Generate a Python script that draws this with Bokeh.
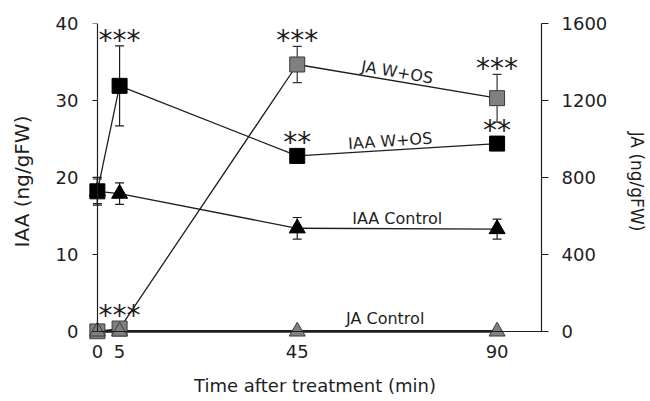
from bokeh.plotting import figure
from bokeh.models import Range1d, LinearAxis, FixedTicker, Whisker, ColumnDataSource, TeeHead
from bokeh.core.properties import value
from bokeh.embed import file_html
from bokeh.resources import INLINE

# ---------------- data ----------------
time_min = [0, 5, 45, 90]
x_tick_labels = ["0", "5", "45", "90"]
iaa_wos = [18.2, 31.9, 22.8, 24.4]
iaa_wos_err = [1.8, 5.2, 0.6, 0.6]
iaa_ctrl = [18.2, 17.9, 13.4, 13.3]
iaa_ctrl_err = [1.6, 1.4, 1.4, 1.3]
ja_wos = [0, 15, 1387, 1212]
ja_wos_err = [5, 8, 94, 124]
ja_ctrl = [0, 0, 0, 0]
ja_ctrl_err = [2, 2, 2, 2]
iaa_ticks = [0, 10, 20, 30, 40]
ja_ticks = [0, 400, 800, 1200, 1600]
sig_iaa_wos = ["", "***", "**", "**"]
sig_ja_wos = ["", "***", "***", "***"]
series_names = ["IAA W+OS", "IAA Control", "JA W+OS", "JA Control"]

IAA_MAX = 40
JA_MAX = 1600
X_MAX = 100
SCALE = JA_MAX / IAA_MAX
FONT = "DejaVu Sans"
INK = "#1e1e1e"
GREY = "#808080"
Y0 = -1.05

p = figure(width=650, height=401, x_range=Range1d(-2, X_MAX), y_range=Range1d(Y0, IAA_MAX),
           x_axis_type=None, y_axis_type=None, output_backend="svg", toolbar_location=None,
           min_border_left=88, min_border_right=105, min_border_top=23, min_border_bottom=62)
p.extra_y_ranges = {"ja": Range1d(Y0 * SCALE, JA_MAX)}
p.outline_line_color = None
p.background_fill_color = "white"
p.border_fill_color = "white"

# ---------------- axes ----------------
def style_axis(ax, size="18px"):
    ax.axis_line_color = INK
    ax.axis_line_width = 1.2
    ax.major_tick_line_color = INK
    ax.major_tick_line_width = 1.2
    ax.minor_tick_line_color = None
    ax.major_label_text_font = FONT
    ax.major_label_text_font_size = size
    ax.major_label_text_color = INK
    ax.axis_label_text_font = FONT
    ax.axis_label_text_font_style = "normal"
    ax.axis_label_text_color = INK

# left: labels + title at the frame edge, line + ticks at x = 0
ylab = LinearAxis(ticker=FixedTicker(ticks=iaa_ticks), major_tick_out=0, major_tick_in=0,
                  major_label_standoff=10, axis_label="IAA (ng/gFW)", axis_label_standoff=19)
style_axis(ylab)
ylab.axis_line_color = None
ylab.major_tick_line_color = None
ylab.axis_label_text_font_size = "20px"
p.add_layout(ylab, "left")

yline = LinearAxis(fixed_location=0, bounds=(0, IAA_MAX), ticker=FixedTicker(ticks=iaa_ticks),
                   major_tick_out=5, major_tick_in=0)
style_axis(yline)
yline.major_label_text_color = None
p.add_layout(yline, "left")

# bottom: labels + title at the frame edge, line at y = 0
xlab = LinearAxis(ticker=FixedTicker(ticks=time_min), major_tick_out=0, major_tick_in=0,
                  major_label_standoff=5, axis_label="Time after treatment (min)",
                  axis_label_standoff=14,
                  major_label_overrides={t: s for t, s in zip(time_min, x_tick_labels)})
style_axis(xlab)
xlab.axis_line_color = None
xlab.major_tick_line_color = None
xlab.axis_label_text_font_size = "18px"
p.add_layout(xlab, "below")

xline = LinearAxis(fixed_location=0, bounds=(0, X_MAX), ticker=FixedTicker(ticks=time_min),
                   major_tick_out=0, major_tick_in=0)
style_axis(xline)
xline.major_tick_line_color = None
xline.major_label_text_color = None
p.add_layout(xline, "below")

rax = LinearAxis(y_range_name="ja", bounds=(0, JA_MAX), ticker=FixedTicker(ticks=ja_ticks),
                 major_tick_out=7, major_tick_in=0, major_label_standoff=13,
                 axis_label="JA (ng/gFW)", axis_label_standoff=17)
style_axis(rax)
rax.axis_label_text_font_size = "17px"
p.add_layout(rax, "right")

# ---------------- error bars ----------------
def whisk(vals, errs, color, rng="default"):
    src = ColumnDataSource(dict(x=time_min, up=[v + e for v, e in zip(vals, errs)],
                                lo=[v - e for v, e in zip(vals, errs)]))
    w = Whisker(base="x", upper="up", lower="lo", source=src, line_color=color, line_width=1.2,
                upper_head=TeeHead(size=9, line_color=color, line_width=1.2),
                lower_head=TeeHead(size=9, line_color=color, line_width=1.2),
                level="underlay", y_range_name=rng)
    p.add_layout(w)

whisk(iaa_ctrl, iaa_ctrl_err, INK)
whisk(iaa_wos, iaa_wos_err, INK)
whisk(ja_wos, ja_wos_err, "#333333", "ja")
whisk(ja_ctrl, ja_ctrl_err, "#333333", "ja")

# ---------------- lines ----------------
p.line(time_min, ja_ctrl, y_range_name="ja", line_color=INK, line_width=2.6)
p.line(time_min, iaa_ctrl, line_color=INK, line_width=1.3)
p.line(time_min, iaa_wos, line_color=INK, line_width=1.3)
p.line(time_min, ja_wos, y_range_name="ja", line_color=INK, line_width=1.3)

# ---------------- markers ----------------
p.scatter(time_min, iaa_ctrl, marker="triangle", size=16, fill_color="black", line_color="black")
p.scatter(time_min, iaa_wos, marker="square", size=15, fill_color="black", line_color="black")
p.scatter(time_min, ja_wos, y_range_name="ja", marker="square", size=15, fill_color=GREY,
          line_color="#3a3a3a", line_width=1)
p.scatter(time_min, ja_ctrl, y_range_name="ja", marker="triangle", size=16, fill_color=GREY,
          line_color="#3a3a3a", line_width=1)

# ---------------- significance stars ----------------
star_x, star_y, star_t = [], [], []
for vals, errs, sig, conv in [(iaa_wos, iaa_wos_err, sig_iaa_wos, 1.0),
                              (ja_wos, ja_wos_err, sig_ja_wos, 1.0 / SCALE)]:
    for t, v, e, s in zip(time_min, vals, errs, sig):
        if s:
            anchor = max((v + e) * conv, v * conv + 1.0)
            star_x.append(t)
            star_y.append(anchor + 0.75)
            star_t.append(s)
p.text(x=star_x, y=star_y, text=star_t, text_font=value(FONT), text_font_size="28px",
       text_align="center", text_baseline="alphabetic", text_color=INK)

# ---------------- series labels ----------------
def seg_label(name, vals, rng, pad, angle, frac):
    xm = time_min[2] + frac * (time_min[3] - time_min[2])
    ym = vals[2] + frac * (vals[3] - vals[2]) + pad
    p.text(x=[xm], y=[ym], text=[name], y_range_name=rng, angle=angle,
           text_font=value(FONT), text_font_size="16px", text_align="center",
           text_baseline="alphabetic", text_color=INK)

seg_label(series_names[2], ja_wos, "ja", 1.2 * SCALE, -0.17, 0.5)
seg_label(series_names[0], iaa_wos, "default", 1.2, 0.07, 0.465)
seg_label(series_names[1], iaa_ctrl, "default", 1.3, 0.0, 0.5)
seg_label(series_names[3], ja_ctrl, "ja", 1.7 * SCALE, 0.0, 0.44)

open("out.html", "w").write(file_html(p, INLINE))
